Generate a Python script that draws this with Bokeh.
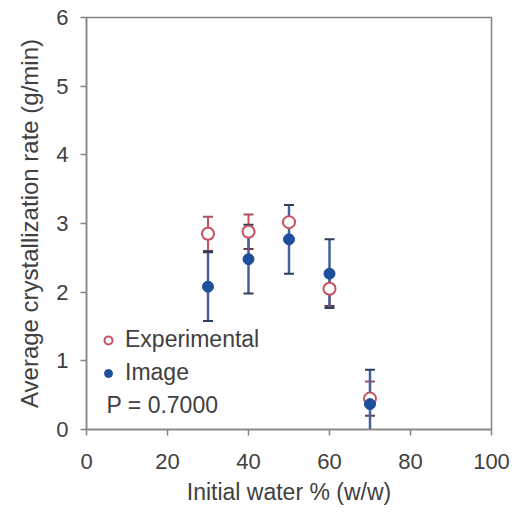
from bokeh.plotting import figure
from bokeh.models import (ColumnDataSource, Whisker, TeeHead, Legend, LegendItem,
                          Label, FixedTicker, Range1d)
from bokeh.embed import file_html
from bokeh.resources import INLINE

water = [30, 40, 50, 60, 70]
exp_rate = [2.85, 2.88, 3.02, 2.05, 0.45]
exp_err = [0.25, 0.25, 0.25, 0.25, 0.25]
img_rate = [2.08, 2.48, 2.77, 2.27, 0.37]
img_err = [0.50, 0.50, 0.50, 0.50, 0.50]
x_ticks = [0, 20, 40, 60, 80, 100]
y_ticks = [0, 1, 2, 3, 4, 5, 6]

FONT = "Liberation Sans"
RED = "#c94f5e"
BLUE = "#1d4f9c"
AXIS = "#858585"
TXT = "#404040"

exp_src = ColumnDataSource(dict(
    x=water, y=exp_rate,
    lo=[v - e for v, e in zip(exp_rate, exp_err)],
    hi=[v + e for v, e in zip(exp_rate, exp_err)]))
img_src = ColumnDataSource(dict(
    x=water, y=img_rate,
    lo=[v - e for v, e in zip(img_rate, img_err)],
    hi=[v + e for v, e in zip(img_rate, img_err)]))

p = figure(width=512, height=512, output_backend="svg", toolbar_location=None,
           x_range=Range1d(0, 100), y_range=Range1d(0, 6),
           min_border_left=86, min_border_right=21, min_border_top=17,
           min_border_bottom=83)
p.outline_line_color = AXIS
p.outline_line_width = 1.5
p.grid.visible = False

for ax in (p.xaxis, p.yaxis):
    ax.axis_line_color = AXIS
    ax.axis_line_width = 1.5
    ax.major_tick_line_color = AXIS
    ax.major_tick_line_width = 1.5
    ax.major_tick_out = 6
    ax.major_tick_in = 0
    ax.minor_tick_line_color = None
    ax.major_label_text_font = FONT
    ax.major_label_text_font_size = "22px"
    ax.major_label_text_color = TXT
    ax.axis_label_text_font = FONT
    ax.axis_label_text_font_size = "23px"
    ax.axis_label_text_font_style = "normal"
    ax.axis_label_text_color = TXT

p.yaxis.axis_label_text_font_size = "24px"
p.xaxis.ticker = FixedTicker(ticks=x_ticks)
p.yaxis.ticker = FixedTicker(ticks=y_ticks)
p.xaxis.axis_label = "Initial water % (w/w)"
p.yaxis.axis_label = "Average crystallization rate (g/min)"
p.xaxis.major_label_standoff = 18
p.xaxis.axis_label_standoff = 7
p.yaxis.major_label_standoff = 12
p.yaxis.axis_label_standoff = 10

w_exp = Whisker(source=exp_src, base="x", lower="lo", upper="hi",
                line_color=RED, line_width=2,
                upper_head=TeeHead(size=10, line_color="#a8505c", line_width=2),
                lower_head=TeeHead(size=10, line_color="#6a3a48", line_width=2))
p.add_layout(w_exp)
r_exp = p.scatter("x", "y", source=exp_src, size=12, marker="circle",
                  fill_color="white", line_color=RED, line_width=2)

w_img = Whisker(source=img_src, base="x", lower="lo", upper="hi",
                line_color="#44619a", line_width=2.5,
                upper_head=TeeHead(size=10, line_color="#2e3e5e", line_width=2),
                lower_head=TeeHead(size=10, line_color="#2e3e5e", line_width=2))
p.add_layout(w_img)
r_img = p.scatter("x", "y", source=img_src, size=11, marker="circle",
                  fill_color=BLUE, line_color=BLUE)

legend = Legend(items=[LegendItem(label="Experimental", renderers=[r_exp]),
                       LegendItem(label="Image", renderers=[r_img])],
                location=(12, 43), orientation="vertical",
                background_fill_alpha=0, border_line_color=None,
                padding=0, margin=0, spacing=6,
                glyph_width=20, glyph_height=24, label_height=24,
                label_standoff=7,
                label_text_font=FONT, label_text_font_size="23px",
                label_text_color=TXT)
p.add_layout(legend)

p.add_layout(Label(x=20, y=12, x_units="screen", y_units="screen",
                   text="P = 0.7000", text_font=FONT, text_font_size="23px",
                   text_color=TXT))

open("out.html", "w").write(file_html(p, INLINE))
